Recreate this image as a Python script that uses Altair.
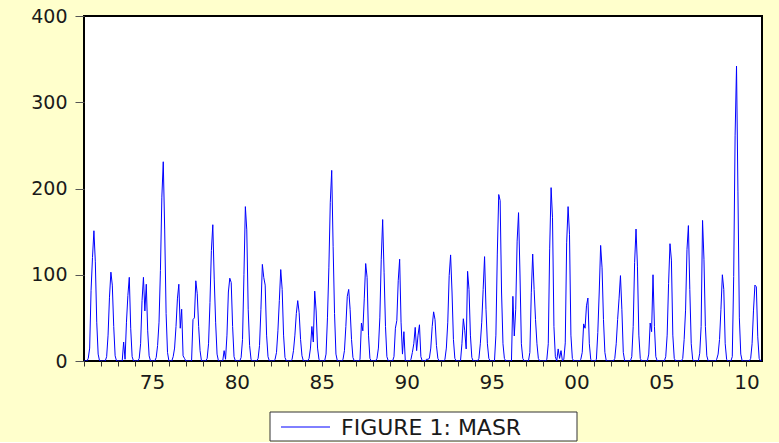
import altair as alt
import pandas as pd

years = list(range(1971, 2011))
series_name = "FIGURE 1: MASR"

# monthly values (Jan..Dec)
y1971 = [0, 0, 0, 3, 15, 82, 120, 151, 115, 45, 8, 0]
y1972 = [0, 0, 0, 0, 5, 30, 74, 103, 88, 40, 6, 0]
y1973 = [0, 0, 0, 0, 22, 2, 45, 76, 97, 38, 5, 0]
y1974 = [0, 0, 0, 3, 20, 70, 97, 58, 89, 35, 6, 0]
y1975 = [0, 0, 0, 4, 18, 45, 105, 190, 231, 153, 55, 10]
y1976 = [0, 0, 0, 5, 15, 40, 72, 89, 38, 60, 6, 3]
y1977 = [0, 0, 0, 0, 0, 48, 50, 93, 78, 40, 12, 0]
y1978 = [0, 0, 0, 3, 20, 68, 128, 158, 95, 45, 8, 0]
y1979 = [0, 0, 0, 12, 2, 30, 80, 96, 91, 40, 5, 0]
y1980 = [0, 0, 0, 4, 25, 100, 179, 152, 60, 18, 2, 0]
y1981 = [0, 0, 0, 3, 18, 60, 112, 97, 88, 30, 5, 0]
y1982 = [0, 0, 0, 2, 10, 35, 70, 106, 83, 30, 4, 0]
y1983 = [0, 0, 0, 2, 12, 30, 55, 70, 56, 25, 6, 0]
y1984 = [0, 0, 0, 3, 15, 40, 22, 81, 58, 15, 2, 0]
y1985 = [0, 0, 0, 8, 50, 108, 184, 221, 133, 55, 8, 0]
y1986 = [0, 0, 0, 2, 12, 40, 75, 83, 60, 25, 4, 0]
y1987 = [0, 0, 0, 2, 44, 35, 72, 113, 97, 30, 3, 0]
y1988 = [0, 0, 0, 3, 15, 50, 118, 164, 103, 40, 5, 0]
y1989 = [0, 0, 0, 5, 38, 47, 93, 118, 45, 8, 34, 0]
y1990 = [0, 0, 0, 2, 10, 20, 39, 12, 30, 42, 5, 0]
y1991 = [0, 0, 2, 2, 3, 15, 40, 57, 48, 18, 3, 0]
y1992 = [0, 0, 0, 2, 15, 45, 99, 123, 80, 25, 3, 0]
y1993 = [0, 0, 0, 20, 49, 35, 14, 104, 83, 30, 4, 0]
y1994 = [0, 0, 0, 3, 20, 45, 83, 121, 60, 20, 3, 0]
y1995 = [0, 0, 0, 30, 124, 193, 186, 80, 20, 3, 0, 0]
y1996 = [0, 0, 0, 75, 29, 60, 139, 172, 102, 20, 3, 0]
y1997 = [0, 0, 0, 10, 79, 124, 83, 48, 20, 3, 0, 0]
y1998 = [0, 0, 0, 2, 20, 130, 201, 166, 40, 5, 0, 14]
y1999 = [3, 12, 0, 2, 21, 137, 179, 147, 30, 3, 0, 0]
y2000 = [0, 0, 0, 2, 10, 43, 38, 64, 73, 20, 2, 0]
y2001 = [0, 0, 2, 33, 80, 134, 108, 48, 10, 0, 0, 0]
y2002 = [0, 0, 0, 3, 20, 48, 72, 99, 60, 10, 0, 0]
y2003 = [0, 0, 0, 5, 40, 114, 153, 110, 30, 3, 0, 0]
y2004 = [0, 0, 0, 8, 44, 34, 100, 40, 5, 0, 0, 0]
y2005 = [0, 0, 0, 5, 30, 90, 136, 117, 30, 3, 0, 0]
y2006 = [0, 0, 0, 3, 25, 59, 129, 157, 83, 20, 2, 0]
y2007 = [0, 0, 0, 9, 40, 163, 118, 40, 6, 0, 0, 0]
y2008 = [0, 0, 0, 2, 8, 25, 60, 100, 83, 20, 2, 0]
y2009 = [0, 0, 5, 98, 261, 342, 197, 50, 8, 0, 0, 0]
y2010 = [0, 0, 0, 3, 20, 59, 88, 86, 28, 3, 0, 0]

monthly = [y1971, y1972, y1973, y1974, y1975, y1976, y1977, y1978, y1979, y1980,
           y1981, y1982, y1983, y1984, y1985, y1986, y1987, y1988, y1989, y1990,
           y1991, y1992, y1993, y1994, y1995, y1996, y1997, y1998, y1999, y2000,
           y2001, y2002, y2003, y2004, y2005, y2006, y2007, y2008, y2009, y2010]

x_ticks = years
y_ticks = [0, 100, 200, 300, 400]

rows = []
for yr, vals in zip(years, monthly):
    for m, v in enumerate(vals):
        rows.append({"t": yr + m / 12.0, "masr": v, "series": series_name})
df = pd.DataFrame(rows)

font = "DejaVu Sans"
blue = "#0000ff"

line = alt.Chart(df).mark_line(strokeWidth=1, clip=True, color=blue).encode(
    x=alt.X(
        "t:Q",
        scale=alt.Scale(domain=[1971, 2010 + 11 / 12.0], nice=False, zero=False),
        axis=alt.Axis(
            values=x_ticks,
            labelExpr="datum.value % 5 == 0 ? slice(toString(datum.value), 2) : ''",
            title=None, tickSize=5, tickColor="#333", labelPadding=6,
            labelOverlap=False, labelFlush=False, grid=False, domain=False,
            labelFont=font, labelFontSize=20, labelColor="#1a1a1a",
        ),
    ),
    y=alt.Y(
        "masr:Q",
        scale=alt.Scale(domain=[0, 400], nice=False),
        axis=alt.Axis(
            values=y_ticks, title=None, tickSize=9, tickColor="#555",
            labelPadding=8, grid=False, domain=False,
            labelFont=font, labelFontSize=19, labelColor="#1a1a1a",
        ),
    ),
)

# legend drawn below the plot
leg_df = pd.DataFrame({"label": [series_name]})
leg_box = alt.Chart(leg_df).mark_rect(fill="white", stroke="#333", strokeWidth=1).encode(
    x=alt.value(186), x2=alt.value(493), y=alt.value(396), y2=alt.value(425)
)
leg_line = alt.Chart(leg_df).mark_rule(color=blue, strokeWidth=1).encode(
    x=alt.value(197), x2=alt.value(246), y=alt.value(411)
)
leg_text = alt.Chart(leg_df).mark_text(
    align="left", baseline="middle", font=font, fontSize=22, color="#1a1a1a"
).encode(x=alt.value(257), y=alt.value(411.5), text="label:N")

chart = alt.layer(line, leg_box, leg_line, leg_text).properties(
    width=678,
    height=345,
    autosize=alt.AutoSizeParams(type="none"),
    padding={"left": 84, "top": 16, "right": 17, "bottom": 81},
    background="#FFFFCC",
).configure_view(stroke="#000", strokeWidth=2, fill="white")

chart.save("out.html", embed_options={"renderer": "svg", "actions": False})
